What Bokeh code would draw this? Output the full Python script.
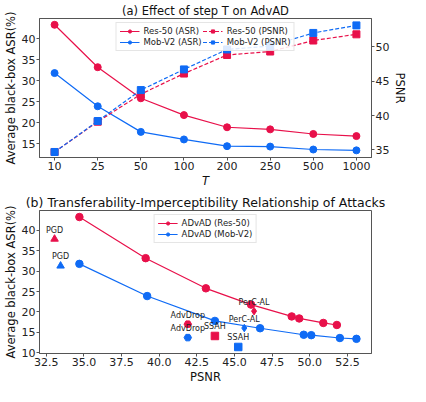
from bokeh.plotting import figure
from bokeh.layouts import column
from bokeh.models import Range1d, LinearAxis, FixedTicker, NumeralTickFormatter
from bokeh.core.properties import value
from bokeh.embed import file_html
from bokeh.resources import INLINE
import numpy as np

# ---------------- data ----------------
T_labels = ["10", "25", "50", "100", "200", "250", "500", "1000"]
res_asr = [43.3, 33.2, 25.8, 21.8, 18.9, 18.4, 17.3, 16.8]
mob_asr = [31.8, 23.9, 17.8, 16.0, 14.4, 14.3, 13.6, 13.4]
res_psnr = [34.7, 39.1, 43.1, 46.1, 48.8, 49.3, 50.9, 51.8]
mob_psnr = [34.7, 39.2, 43.7, 46.7, 49.6, 50.1, 52.0, 53.1]

attacks = ["PGD", "AdvDrop", "SSAH", "PerC-AL"]
attack_markers = ["triangle", "hex", "square", "diamond"]
res_att_psnr = [33.05, 41.9, 43.7, 46.3]
res_att_asr = [37.9, 17.0, 14.1, 20.2]
mob_att_psnr = [33.45, 41.9, 45.25, 45.65]
mob_att_asr = [31.3, 13.7, 11.4, 16.05]

left_ticks_a = [15, 20, 25, 30, 35, 40]
right_ticks_a = [35, 40, 45, 50]
x_ticks_b = [32.5, 35.0, 37.5, 40.0, 42.5, 45.0, 47.5, 50.0, 52.5]
y_ticks_b = [10, 15, 20, 25, 30, 35, 40]

RED = "#E8104A"
BLUE = "#0F6BF5"
FONT = "DejaVu Sans"
SPINE = "#555555"


def style_axis(ax, tick_size="11px"):
    ax.major_label_text_font = FONT
    ax.major_label_text_font_size = tick_size
    ax.major_label_text_color = "#222222"
    ax.axis_label_text_font = FONT
    ax.axis_label_text_font_size = "11.5px"
    ax.axis_label_text_font_style = "normal"
    ax.axis_label_text_color = "#111111"
    ax.axis_line_color = SPINE
    ax.major_tick_line_color = SPINE
    ax.major_tick_out = 3
    ax.major_tick_in = 0
    ax.minor_tick_line_color = None
    ax.major_label_standoff = 1
    ax.axis_label_standoff = 1


def style_fig(p, title_size):
    p.grid.visible = False
    p.outline_line_color = SPINE
    p.outline_line_width = 1
    p.title.text_font = FONT
    p.title.text_font_size = title_size
    p.title.text_font_style = "normal"
    p.title.align = "center"
    p.title.text_color = "#111111"
    p.title.offset = 0
    p.title.standoff = 2
    p.background_fill_color = "white"
    p.border_fill_color = "white"


def style_legend(lg):
    lg.label_text_font = FONT
    lg.label_text_font_size = "8.5px"
    lg.label_text_color = "#222222"
    lg.label_height = 8
    lg.glyph_height = 8
    lg.glyph_width = 20
    lg.spacing = 1
    lg.padding = 3
    lg.margin = 4
    lg.label_standoff = 4
    lg.border_line_color = "#cccccc"
    lg.background_fill_alpha = 0.85


# ---------------- (a) ----------------
xi = np.arange(len(T_labels))
p1 = figure(width=410, height=190, output_backend="svg", toolbar_location=None,
            title="(a) Effect of step T on AdvAD",
            x_range=Range1d(-0.35, len(T_labels) - 1 + 0.35),
            y_range=Range1d(11.7, 44.8),
            min_border_left=33, min_border_right=28, min_border_top=15, min_border_bottom=24)
p1.extra_y_ranges = {"psnr": Range1d(33.9, 54.1)}
style_fig(p1, "11.5px")

p1.xaxis.ticker = FixedTicker(ticks=list(xi))
p1.xaxis.major_label_overrides = {int(i): t for i, t in zip(xi, T_labels)}
p1.xaxis.axis_label = "T"
p1.yaxis.ticker = FixedTicker(ticks=left_ticks_a)
p1.yaxis.axis_label = "Average black-box ASR(%)"
style_axis(p1.xaxis[0])
style_axis(p1.yaxis[0])
p1.xaxis.axis_label_text_font_style = "italic"

ax_r = LinearAxis(y_range_name="psnr", axis_label="PSNR", ticker=FixedTicker(ticks=right_ticks_a))
style_axis(ax_r)
p1.add_layout(ax_r, "right")

p1.line(xi, res_asr, color=RED, line_width=1.2, legend_label="Res-50 (ASR)")
p1.scatter(xi, res_asr, marker="circle", size=7, color=RED, legend_label="Res-50 (ASR)")
p1.line(xi, mob_asr, color=BLUE, line_width=1.2, legend_label="Mob-V2 (ASR)")
p1.scatter(xi, mob_asr, marker="circle", size=7, color=BLUE, legend_label="Mob-V2 (ASR)")
p1.line(xi, res_psnr, color=RED, line_width=1.2, line_dash="4 2", y_range_name="psnr",
        legend_label="Res-50 (PSNR)")
p1.scatter(xi, res_psnr, marker="square", size=7, color=RED, y_range_name="psnr",
           legend_label="Res-50 (PSNR)")
p1.line(xi, mob_psnr, color=BLUE, line_width=1.2, line_dash="4 2", y_range_name="psnr",
        legend_label="Mob-V2 (PSNR)")
p1.scatter(xi, mob_psnr, marker="square", size=7, color=BLUE, y_range_name="psnr",
           legend_label="Mob-V2 (PSNR)")

lg = p1.legend[0]
lg.location = "top_center"
lg.ncols = 2
style_legend(lg)

# ---------------- (b) ----------------
p2 = figure(width=410, height=196, output_backend="svg", toolbar_location=None,
            title="(b) Transferability-Imperceptibility Relationship of Attacks",
            x_range=Range1d(32.05, 54.1), y_range=Range1d(9.8, 44.9),
            min_border_left=33, min_border_right=28, min_border_top=20, min_border_bottom=24)
style_fig(p2, "12.5px")
p2.xaxis.ticker = FixedTicker(ticks=x_ticks_b)
p2.xaxis.formatter = NumeralTickFormatter(format="0.0")
p2.xaxis.axis_label = "PSNR"
p2.yaxis.ticker = FixedTicker(ticks=y_ticks_b)
p2.yaxis.axis_label = "Average black-box ASR(%)"
style_axis(p2.xaxis[0])
style_axis(p2.yaxis[0])

p2.line(res_psnr, res_asr, color=RED, line_width=1.2, legend_label="ADvAD (Res-50)")
p2.scatter(res_psnr, res_asr, marker="circle", size=7.5, color=RED, legend_label="ADvAD (Res-50)")
p2.line(mob_psnr, mob_asr, color=BLUE, line_width=1.2, legend_label="ADvAD (Mob-V2)")
p2.scatter(mob_psnr, mob_asr, marker="circle", size=7.5, color=BLUE, legend_label="ADvAD (Mob-V2)")

for xs, ys, col in ((res_att_psnr, res_att_asr, RED), (mob_att_psnr, mob_att_asr, BLUE)):
    for x, y, m in zip(xs, ys, attack_markers):
        p2.scatter([x], [y], marker=m, size=7.5, color=col)
    p2.text(xs, ys, text=attacks, y_offset=-9, text_align="center", text_baseline="middle",
            text_font=value(FONT), text_font_size="8px", text_color="#222222")

lg2 = p2.legend[0]
lg2.location = "top_center"
style_legend(lg2)

layout = column(p1, p2, spacing=0)
open("out.html", "w").write(file_html(layout, INLINE))
